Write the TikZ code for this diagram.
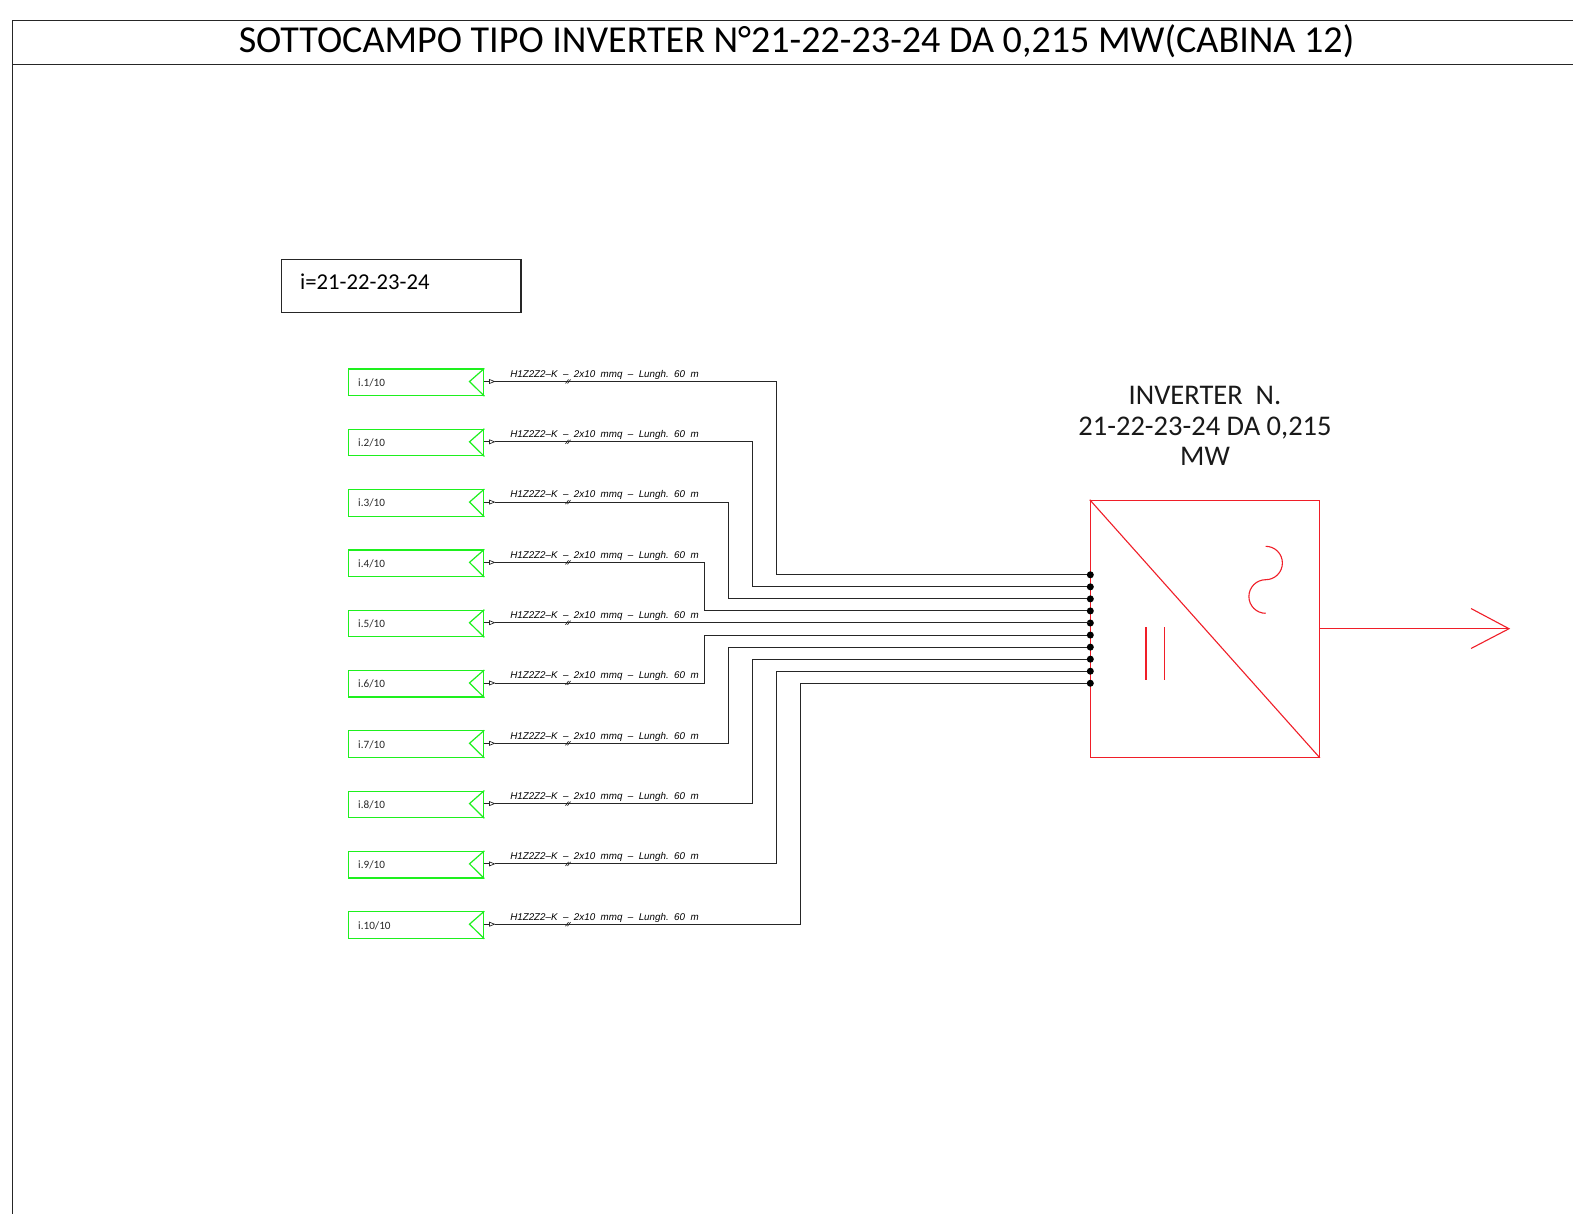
\documentclass[tikz,border=0pt]{standalone}
\usepackage{fontspec}
\setmainfont{Carlito}
\newfontfamily\cablefont{Liberation Sans}
\usetikzlibrary{calc}
\definecolor{strgreen}{RGB}{30,240,30}
\definecolor{invred}{RGB}{240,30,40}
\tikzset{
  frameline/.style={draw=black!85,line width=1.1pt},
  stringbox/.style={draw=strgreen,line width=1.2pt,minimum width=135.5pt,minimum height=26.5pt,inner sep=0pt,anchor=center},
  stringname/.style={font=\fontsize{11.2}{12}\selectfont,anchor=west,inner sep=0pt,text=black!85},
  stringtip/.style={draw=strgreen,line width=1.2pt},
  cable/.style={draw=black!85,line width=1pt},
  cablelabel/.style={font=\cablefont\itshape\fontsize{9.8}{10}\selectfont,inner sep=0pt,anchor=center,text=black},
  cabledot/.style={circle,fill=black,minimum size=7pt,inner sep=0pt},
  inv/.style={draw=invred,line width=1.1pt},
  invtext/.style={font=\fontsize{28.5}{30.5}\selectfont,align=center,inner sep=0pt,text=black!90},
}
\begin{document}
\begin{tikzpicture}[x=1pt,y=-1pt]
\useasboundingbox (0,0) rectangle (1573,1214);
\fill[white] (0,0) rectangle (1573,1214);
% frame
\coordinate (ftr) at (1573,20.5);
\coordinate (ftl) at (12.7,20.5);
\coordinate (fbl) at (12.7,1214);
\coordinate (fml) at (12.7,64.3);
\coordinate (fmr) at (1573,64.3);
\draw[frameline] (ftr) -- (ftl) -- (fbl);
\draw[frameline] (fml) -- (fmr);
\node[font=\fontsize{38.1}{42}\selectfont,inner sep=0pt,text=black] (title) at (796.5,41.5) {SOTTOCAMPO TIPO INVERTER N°21-22-23-24 DA 0,215 MW(CABINA 12)};
% i box
\node[frameline,minimum width=239.5pt,minimum height=52.5pt,inner sep=0pt] (ibox) at (401.2,286) {};
\node[font=\fontsize{22.7}{24}\selectfont,anchor=west,inner sep=0pt] (itext) at (300,282) {i=21-22-23-24};
% inverter
\node[inv,minimum width=229pt,minimum height=257pt,inner sep=0pt] (inverter) at (1204.8,628.8) {};
\draw[inv] (inverter.north west) -- (inverter.south east);
\node[invtext] (invlabel) at (1205,426) {INVERTER\ \ N.\\21-22-23-24 DA 0,215\\MW};
% inverter symbols
\coordinate (capa) at (1146,627.3);
\coordinate (capb) at (1146,680);
\coordinate (capc) at (1164.3,627.3);
\coordinate (capd) at (1164.3,680);
\draw[inv] (capa) -- (capb);
\draw[inv] (capc) -- (capd);
\coordinate (tilde) at (1265.7,546.3);
\draw[inv] (tilde) arc[start angle=-90,end angle=90,radius=16.7] arc[start angle=-90,end angle=-270,radius=16.8];
% output
\coordinate (outtip) at (1509,628.7);
\coordinate (outa) at (1471,608.5);
\coordinate (outb) at (1471,648.5);
\draw[inv] (inverter.east |- outtip) -- (outtip);
\draw[inv] (outa) -- (outtip) -- (outb);
% strings
\foreach \i/\vx in {1/776.7,2/752.6,3/728.5,4/704.4,5/0,6/704.4,7/728.5,8/752.6,9/776.7,10/800.8}{
  \pgfmathsetmacro{\yy}{381.5+60.3*(\i-1)}
  \pgfmathsetmacro{\by}{574.8+12.05*(\i-1)}
  \node[stringbox] (s\i) at (416,\yy+0.8) {};
  \node[stringname] (n\i) at (358,\yy+1.2) {i.\i/10};
  \coordinate (apex\i) at (469.5,\yy);
  \draw[stringtip] (s\i.north east) -- (apex\i) -- (s\i.south east);
  \node[cabledot] (d\i) at (1090.3,\by) {};
  \coordinate (a\i) at (489.5,\yy);
  \coordinate (b\i) at (494.5,\yy);
  \draw[cable,line width=0.7pt,fill=white] (a\i) ++(0,-2) -- (b\i) -- ++(-5,2) -- cycle;
  \draw[cable] (s\i.east |- a\i) -- (a\i);
  \ifnum\i=5
    \draw[cable] (b\i) -- (b\i -| d\i);
  \else
    \draw[cable] (b\i) -- (\vx,\yy) -- (\vx,\by) -- (d\i);
  \fi
  \coordinate (sl\i) at (568,\yy);
  \draw[cable,line width=0.7pt] ($(sl\i)+(-2.5,2)$) -- ($(sl\i)+(0.5,-2)$);
  \draw[cable,line width=0.7pt] ($(sl\i)+(-0.5,2)$) -- ($(sl\i)+(2.5,-2)$);
  \node[cablelabel] (c\i) at (604.5,\yy-6.7) {H1Z2Z2–K\ \ –\ \ 2x10\ \ mmq\ \ –\ \ Lungh.\ \ 60\ \ m};
}
\end{tikzpicture}
\end{document}
